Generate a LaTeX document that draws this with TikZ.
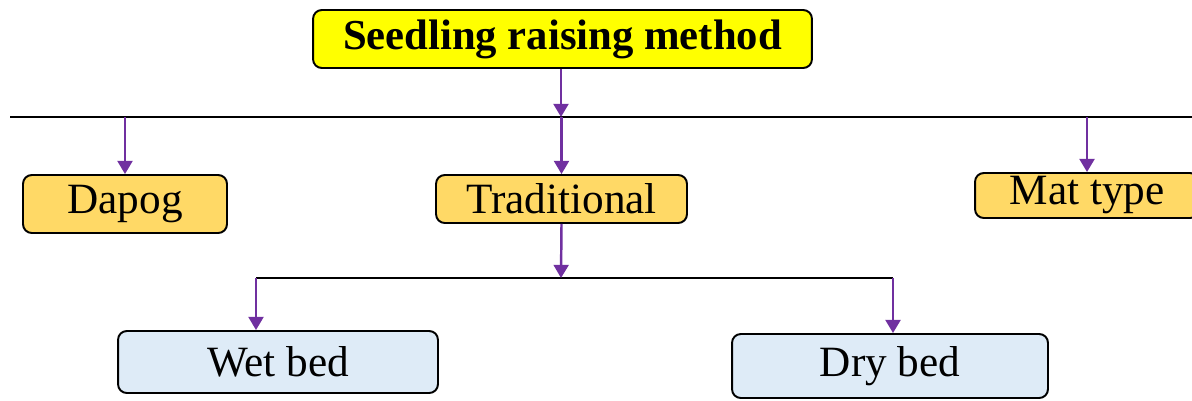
\documentclass[tikz,border=0pt]{standalone}
\usepackage{fontspec}
\setmainfont{Liberation Serif}
\usetikzlibrary{arrows.meta}
\definecolor{titleyellow}{HTML}{FFFF00}
\definecolor{boxorange}{HTML}{FFD966}
\definecolor{boxblue}{HTML}{DEEBF7}
\definecolor{arrowpurple}{HTML}{7030A0}
\begin{document}
\begin{tikzpicture}[x=0.02cm,y=-0.02cm,
  basebox/.style={draw=black,line width=1.1pt,rounded corners=5pt,inner sep=0pt,anchor=center},
  titlebox/.style={basebox,fill=titleyellow,font=\fontsize{24.3}{26}\selectfont\bfseries},
  orangebox/.style={basebox,fill=boxorange,font=\fontsize{24.6}{27}\selectfont},
  bluebox/.style={basebox,fill=boxblue,font=\fontsize{24.6}{27}\selectfont},
  hline/.style={draw=black,line width=1.1pt},
  arr/.style={draw=arrowpurple,line width=1.4pt,-{Triangle[width=8.5pt,length=7.5pt]}}]
\useasboundingbox (0,0) rectangle (1192,400);
\clip (0,0) rectangle (1192,400);
\fill[white] (0,0) rectangle (1192,400);
% nodes
\node[titlebox,minimum width=9.98cm,minimum height=1.16cm] (title) at (562.5,39) {Seedling raising method};
\node[orangebox,minimum width=4.08cm,minimum height=1.16cm] (dapog) at (125,204) {Dapog};
\node[orangebox,minimum width=5.02cm,minimum height=0.96cm] (trad) at (561.5,199) {Traditional};
\node[orangebox,minimum width=4.48cm,minimum height=0.90cm] (mat) at (1087,195.5) {Mat type};
\node[bluebox,minimum width=6.40cm,minimum height=1.24cm] (wet) at (278,362) {Wet bed};
\node[bluebox,minimum width=6.32cm,minimum height=1.28cm] (dry) at (890,366) {Dry bed};
% upper bus
\coordinate (busL) at (10,117);
\coordinate (busR) at (1200,117);
\draw[hline] (busL) -- (busR);
\coordinate (titlebus) at (561,117);
\draw[arr] (title.south -| titlebus) -- (titlebus);
\draw[arr] (dapog.north |- busL) -- (dapog.north);
\draw[arr] (trad.north |- busL) -- (trad.north);
\draw[arr] (mat.north |- busL) -- (mat.north);
% lower bus
\coordinate (lowL) at (256,278);
\coordinate (lowR) at (893,278);
\draw[hline] (lowL) -- (lowR);
\coordinate (tradlow) at (561,278);
\draw[arr] (trad.south) -- (tradlow);
\draw[arr] (lowL) -- (lowL |- wet.north);
\draw[arr] (lowR) -- (lowR |- dry.north);
\end{tikzpicture}
\end{document}
